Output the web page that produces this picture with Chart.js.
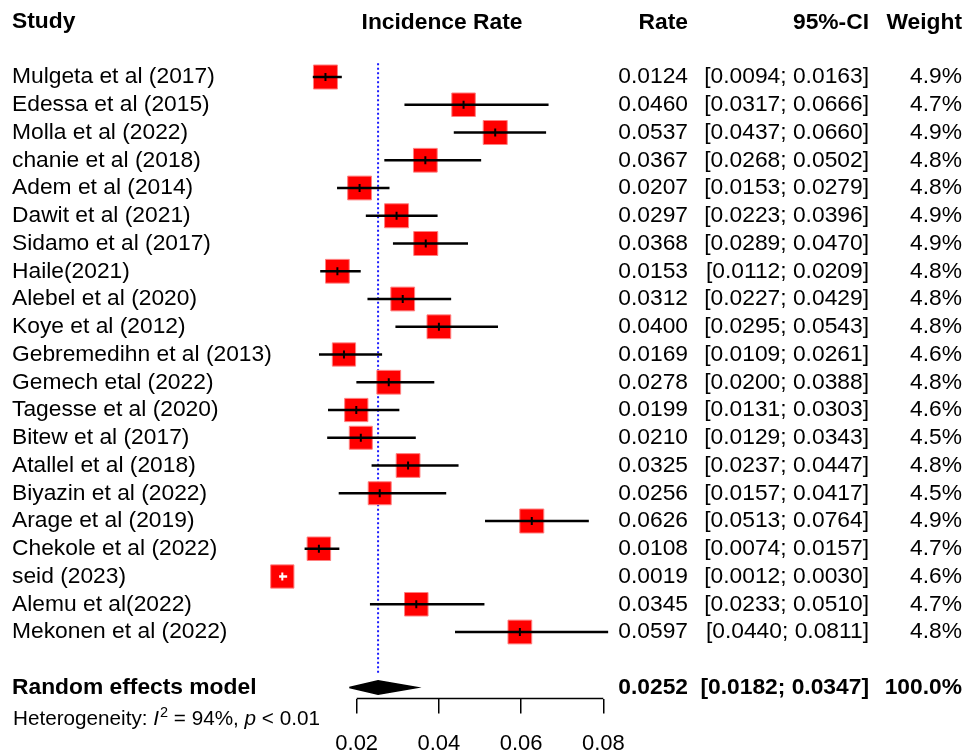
<!DOCTYPE html>
<html>
<head>
<meta charset="utf-8">
<title>Incidence rate forest plot</title>
<script src="https://cdn.jsdelivr.net/npm/chart.js@4.4.4/dist/chart.umd.min.js"></script>
<style>
  html, body { margin: 0; padding: 0; background: #fff; }
  canvas { display: block; }
</style>
</head>
<body>
<canvas id="forest" width="965" height="755"></canvas>
<script>
// Study data
const studies = [
  "Mulgeta et al (2017)", "Edessa et al (2015)", "Molla et al (2022)", "chanie et al (2018)",
  "Adem et al (2014)", "Dawit et al (2021)", "Sidamo et al (2017)", "Haile(2021)",
  "Alebel et al (2020)", "Koye et al (2012)", "Gebremedihn et al (2013)", "Gemech etal (2022)",
  "Tagesse et al (2020)", "Bitew et al (2017)", "Atallel et al (2018)", "Biyazin et al (2022)",
  "Arage et al (2019)", "Chekole et al (2022)", "seid (2023)", "Alemu et al(2022)",
  "Mekonen et al (2022)"
]
const rates = [0.0124, 0.0460, 0.0537, 0.0367, 0.0207, 0.0297, 0.0368, 0.0153, 0.0312, 0.0400, 0.0169,
  0.0278, 0.0199, 0.0210, 0.0325, 0.0256, 0.0626, 0.0108, 0.0019, 0.0345, 0.0597]
const lower = [0.0094, 0.0317, 0.0437, 0.0268, 0.0153, 0.0223, 0.0289, 0.0112, 0.0227, 0.0295, 0.0109,
  0.0200, 0.0131, 0.0129, 0.0237, 0.0157, 0.0513, 0.0074, 0.0012, 0.0233, 0.0440]
const upper = [0.0163, 0.0666, 0.0660, 0.0502, 0.0279, 0.0396, 0.0470, 0.0209, 0.0429, 0.0543, 0.0261,
  0.0388, 0.0303, 0.0343, 0.0447, 0.0417, 0.0764, 0.0157, 0.0030, 0.0510, 0.0811]
const weights = [4.9, 4.7, 4.9, 4.8, 4.8, 4.9, 4.9, 4.8, 4.8, 4.8, 4.6, 4.8, 4.6, 4.5, 4.8, 4.5, 4.9, 4.7, 4.6, 4.7, 4.8]

// Random effects model
const pooledLabel = "Random effects model"
const pooledRate = 0.0252
const pooledCI = [0.0182, 0.0347]
const pooledWeight = "100.0%"
const heterogeneity = { i2: "94%", p: "< 0.01" }

const xTicks = [0.02, 0.04, 0.06, 0.08]
const headers = { study: "Study", plot: "Incidence Rate", rate: "Rate", ci: "95%-CI", weight: "Weight" }

const FONT = "'Liberation Sans', Arial, sans-serif"
const TEXT_SIZE = 22.8
const HEADER_ROW = -2
const POOLED_ROW = studies.length + 1
const AXIS_ROW = POOLED_ROW + 0.4
const RATE_X = 688, CI_X = 869, WEIGHT_X = 962

const maxWeight = Math.max(...weights)
const boxSide = (w) => 24 * Math.sqrt(w / maxWeight)

// CI fully hidden by the box -> draw it in white (like R meta)
const insideBox = (chart, i) => {
  const x = chart.scales.x
  return x.getPixelForValue(upper[i]) - x.getPixelForValue(lower[i]) < boxSide(weights[i])
}

const rowLabel = (v) => {
  if (v === HEADER_ROW) return headers.study
  if (v === POOLED_ROW) return pooledLabel
  return studies[v] || ""
}

// Text columns on the right, header and heterogeneity line
const textColumns = {
  id: "textColumns",
  afterDraw(chart) {
    const { ctx, scales: { y } } = chart
    const row = (r) => y.getPixelForValue(r)
    ctx.save()
    ctx.fillStyle = "#000"
    ctx.textBaseline = "middle"

    ctx.font = `bold ${TEXT_SIZE}px ${FONT}`
    ctx.textAlign = "center"
    ctx.fillText(headers.plot, 442, row(HEADER_ROW) + 1)
    ctx.textAlign = "right"
    ctx.fillText(headers.rate, RATE_X, row(HEADER_ROW) + 1)
    ctx.fillText(headers.ci, CI_X, row(HEADER_ROW) + 1)
    ctx.fillText(headers.weight, WEIGHT_X, row(HEADER_ROW) + 1)

    ctx.font = `${TEXT_SIZE}px ${FONT}`
    rates.forEach((r, i) => {
      ctx.fillText(r.toFixed(4), RATE_X, row(i))
      ctx.fillText(`[${lower[i].toFixed(4)}; ${upper[i].toFixed(4)}]`, CI_X, row(i))
      ctx.fillText(weights[i].toFixed(1) + "%", WEIGHT_X, row(i))
    })

    ctx.font = `bold ${TEXT_SIZE}px ${FONT}`
    ctx.fillText(pooledRate.toFixed(4), RATE_X, row(POOLED_ROW))
    ctx.fillText(`[${pooledCI[0].toFixed(4)}; ${pooledCI[1].toFixed(4)}]`, CI_X, row(POOLED_ROW))
    ctx.fillText(pooledWeight, WEIGHT_X, row(POOLED_ROW))

    // Heterogeneity: I^2 = 94%, p < 0.01
    const base = 725
    let x = 13
    ctx.textAlign = "left"
    ctx.textBaseline = "alphabetic"
    const part = (txt, font, dy = 0) => {
      ctx.font = font
      ctx.fillText(txt, x, base + dy)
      x += ctx.measureText(txt).width
    }
    part("Heterogeneity: ", `20.7px ${FONT}`)
    part("I", `italic 20.7px ${FONT}`)
    x += 1
    part("2", `14.5px ${FONT}`, -8)
    part(` = ${heterogeneity.i2}, `, `20.7px ${FONT}`)
    part("p", `italic 20.7px ${FONT}`)
    part(` ${heterogeneity.p}`, `20.7px ${FONT}`)
    ctx.restore()
  }
}

const ctx = document.getElementById("forest").getContext("2d")

new Chart(ctx, {
  type: "scatter",
  data: {
    datasets: [
      {
        // point estimate tick
        type: "scatter",
        data: rates.map((r, i) => ({ x: r, y: i })),
        pointStyle: "line",
        pointRotation: 90,
        pointRadius: 4,
        pointBorderWidth: 2,
        pointBorderColor: (c) => insideBox(c.chart, c.dataIndex) ? "#fff" : "#000",
        clip: false,
        order: 0
      },
      {
        // pooled diamond
        type: "line",
        data: [
          { x: pooledCI[0], y: POOLED_ROW },
          { x: pooledRate, y: POOLED_ROW - 0.24 },
          { x: pooledCI[1], y: POOLED_ROW },
          { x: pooledRate, y: POOLED_ROW + 0.24 },
          { x: pooledCI[0], y: POOLED_ROW }
        ],
        fill: "shape",
        backgroundColor: "#000",
        borderColor: "#000",
        borderWidth: 1.5,
        pointRadius: 0,
        tension: 0,
        clip: false,
        order: 0
      },
      {
        // confidence intervals
        type: "bar",
        indexAxis: "y",
        data: lower.map((lo, i) => ({ x: [lo, upper[i]], y: i })),
        barThickness: 1.8,
        grouped: false,
        backgroundColor: (c) => insideBox(c.chart, c.dataIndex) ? "#fff" : "#000",
        borderWidth: 0,
        clip: false,
        order: 1
      },
      {
        // study boxes
        type: "scatter",
        data: rates.map((r, i) => ({ x: r, y: i })),
        pointStyle: "rect",
        pointRadius: (c) => boxSide(weights[c.dataIndex]) / Math.SQRT2,
        pointBackgroundColor: "#ff0000",
        pointBorderColor: "#ff8080",
        pointBorderWidth: 1,
        clip: false,
        order: 2
      },
      {
        // pooled estimate reference line
        type: "line",
        data: [{ x: pooledRate, y: -0.5 }, { x: pooledRate, y: POOLED_ROW - 0.45 }],
        borderColor: "#1a1aff",
        borderWidth: 2,
        borderDash: [2, 2.5],
        pointRadius: 0,
        clip: false,
        order: 3
      },
      {
        // x axis line, only across the tick range
        type: "line",
        data: [{ x: xTicks[0], y: AXIS_ROW }, { x: xTicks[xTicks.length - 1], y: AXIS_ROW }],
        borderColor: "#000",
        borderWidth: 1.5,
        pointRadius: 0,
        clip: false,
        order: 3
      }
    ]
  },
  options: {
    responsive: false,
    animation: false,
    events: [],
    devicePixelRatio: 1,
    layout: { padding: { left: 12, right: 279.5, top: 21.5, bottom: 0 } },
    plugins: {
      legend: { display: false },
      tooltip: { enabled: false }
    },
    scales: {
      x: {
        type: "linear",
        position: "bottom",
        min: 0,
        max: 0.1,
        offset: false,
        afterBuildTicks: (s) => { s.ticks = xTicks.map(v => ({ value: v })) },
        afterFit: (s) => { s.height = 56.4 },
        grid: { display: true, drawOnChartArea: false, drawTicks: true, tickLength: 15, color: "#000", lineWidth: 1.5, offset: false },
        border: { display: false },
        ticks: {
          autoSkip: false,
          maxRotation: 0,
          padding: 17,
          color: "#000",
          font: { family: FONT, size: 22 },
          callback: (v) => Number(v).toFixed(2)
        }
      },
      y: {
        type: "linear",
        reverse: true,
        min: HEADER_ROW,
        max: AXIS_ROW,
        offset: false,
        afterBuildTicks: (s) => {
          s.ticks = [HEADER_ROW, ...studies.map((_, i) => i), POOLED_ROW].map(v => ({ value: v }))
        },
        afterFit: (s) => { s.width = 262.5 },
        grid: { display: false, offset: false },
        border: { display: false },
        ticks: {
          autoSkip: false,
          crossAlign: "far",
          color: "#000",
          font: (c) => ({
            family: FONT,
            size: TEXT_SIZE,
            weight: c.tick && (c.tick.value === HEADER_ROW || c.tick.value === POOLED_ROW) ? "bold" : "normal"
          }),
          callback: (v) => rowLabel(v)
        }
      }
    }
  },
  plugins: [textColumns]
})
</script>
</body>
</html>
